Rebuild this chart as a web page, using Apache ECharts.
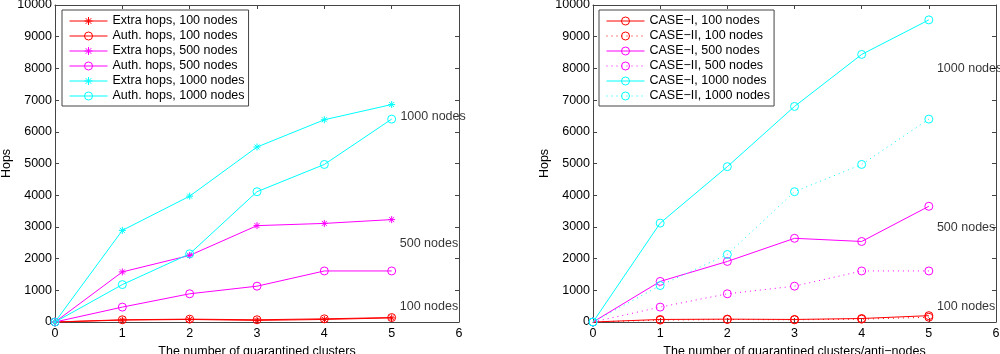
<!DOCTYPE html>
<html><head><meta charset="utf-8">
<script src="https://cdn.jsdelivr.net/npm/echarts@6/dist/echarts.min.js"></script>
<style>html,body{margin:0;padding:0;background:#fff}#c{width:1000px;height:354px}</style>
</head><body><div id="c"></div>
<script>
// ---- data ----
const xCats = [0, 1, 2, 3, 4, 5];
const yTicks = [0, 1000, 2000, 3000, 4000, 5000, 6000, 7000, 8000, 9000, 10000];
// left panel
const extra100  = [0, 60, 80, 50, 80, 130];
const auth100   = [0, 70, 90, 70, 100, 140];
const extra500  = [0, 1580, 2100, 3040, 3110, 3230];
const auth500   = [0, 470, 890, 1130, 1610, 1610];
const extra1000 = [0, 2890, 3970, 5520, 6380, 6860];
const auth1000  = [0, 1180, 2150, 4110, 4970, 6400];
// right panel
const case1_100  = [0, 80, 90, 80, 110, 200];
const case2_100  = [0, 60, 80, 70, 90, 150];
const case1_500  = [0, 1280, 1910, 2640, 2540, 3650];
const case2_500  = [0, 470, 890, 1130, 1610, 1610];
const case1_1000 = [0, 3120, 4900, 6800, 8440, 9530];
const case2_1000 = [0, 1150, 2130, 4110, 4970, 6400];
// annotations [x, y, text]
const annLeft  = [[5.13, 6490, '1000 nodes'], [5.12, 2480, '500 nodes'], [5.12, 500, '100 nodes']];
const annRight = [[5.12, 8000, '1000 nodes'], [5.12, 2990, '500 nodes'], [5.12, 500, '100 nodes']];

const RED = '#ff0000', MAG = '#ff00ff', CYAN = '#00ffff';
const STAR = 'path://M0,-1L0,1M-1,0L1,0M-0.7,-0.7L0.7,0.7M-0.7,0.7L0.7,-0.7';
const FONT = 'Liberation Sans';
const FS = 12.5;
const AX = '#444';

function pts(arr) { return arr.map((v, i) => [xCats[i], v]); }

function mkSeries(name, arr, color, symbol, dotted, gi) {
  const isStar = symbol === 'star';
  return {
    name: name, type: 'line', xAxisIndex: gi * 2, yAxisIndex: gi * 2,
    data: pts(arr),
    symbol: isStar ? STAR : 'circle',
    symbolSize: isStar ? 7 : 8,
    showSymbol: true,
    lineStyle: { color: color, width: 1, type: dotted ? [1, 4] : 'solid' },
    itemStyle: { color: isStar ? color : 'rgba(0,0,0,0)', borderColor: color, borderWidth: 1 },
    emphasis: { disabled: true },
    animation: false, clip: false, z: 3
  };
}

function annSeries(ann, gi) {
  return {
    type: 'scatter', xAxisIndex: gi * 2, yAxisIndex: gi * 2,
    data: ann.map(a => ({ value: [a[0], a[1]], name: a[2] })),
    symbolSize: 1, clip: false, silent: true, animation: false,
    itemStyle: { color: 'rgba(0,0,0,0)' },
    label: { show: true, position: 'inside', align: 'left', verticalAlign: 'middle',
             formatter: p => p.name, color: '#000', fontFamily: FONT, fontSize: FS },
    labelLayout: { hideOverlap: false, moveOverlap: false }
  };
}

const tickFmt = v => String(v);

function xAxes(gi, name) {
  return [
    { type: 'value', gridIndex: gi, min: 0, max: 6, interval: 1, position: 'bottom',
      name: name, nameLocation: 'middle', nameGap: 18,
      nameTextStyle: { color: '#000', fontFamily: FONT, fontSize: FS },
      axisLine: { show: true, onZero: false, lineStyle: { color: AX, width: 1 } },
      axisTick: { show: true, inside: true, length: 4, lineStyle: { color: AX } },
      axisLabel: { color: '#000', fontFamily: FONT, fontSize: FS, margin: 5, formatter: tickFmt },
      splitLine: { show: false } },
    { type: 'value', gridIndex: gi, min: 0, max: 6, interval: 1, position: 'top',
      axisLine: { show: true, onZero: false, lineStyle: { color: AX, width: 1 } },
      axisTick: { show: true, inside: true, length: 4, lineStyle: { color: AX } },
      axisLabel: { show: false }, splitLine: { show: false } }
  ];
}
function yAxes(gi) {
  return [
    { type: 'value', gridIndex: gi, min: yTicks[0], max: yTicks[yTicks.length - 1], interval: 1000, position: 'left',
      name: 'Hops', nameLocation: 'middle', nameGap: 38, nameRotate: 90,
      nameTextStyle: { color: '#000', fontFamily: FONT, fontSize: FS },
      axisLine: { show: true, onZero: false, lineStyle: { color: AX, width: 1 } },
      axisTick: { show: true, inside: true, length: 4, lineStyle: { color: AX } },
      axisLabel: { color: '#000', fontFamily: FONT, fontSize: FS, margin: 3, formatter: tickFmt },
      splitLine: { show: false } },
    { type: 'value', gridIndex: gi, min: yTicks[0], max: yTicks[yTicks.length - 1], interval: 1000, position: 'right',
      axisLine: { show: true, onZero: false, lineStyle: { color: AX, width: 1 } },
      axisTick: { show: true, inside: true, length: 4, lineStyle: { color: AX } },
      axisLabel: { show: false }, splitLine: { show: false } }
  ];
}

const leftNames = ['Extra hops, 100 nodes', 'Auth. hops, 100 nodes', 'Extra hops, 500 nodes',
                   'Auth. hops, 500 nodes', 'Extra hops, 1000 nodes', 'Auth. hops, 1000 nodes'];
const rightNames = ['CASE\u2212I, 100 nodes', 'CASE\u2212II, 100 nodes', 'CASE\u2212I, 500 nodes',
                    'CASE\u2212II, 500 nodes', 'CASE\u2212I, 1000 nodes', 'CASE\u2212II, 1000 nodes'];

const series = [
  mkSeries(leftNames[0], extra100, RED, 'star', false, 0),
  mkSeries(leftNames[1], auth100, RED, 'circle', false, 0),
  mkSeries(leftNames[2], extra500, MAG, 'star', false, 0),
  mkSeries(leftNames[3], auth500, MAG, 'circle', false, 0),
  mkSeries(leftNames[4], extra1000, CYAN, 'star', false, 0),
  mkSeries(leftNames[5], auth1000, CYAN, 'circle', false, 0),
  mkSeries(rightNames[0], case1_100, RED, 'circle', false, 1),
  mkSeries(rightNames[1], case2_100, RED, 'circle', true, 1),
  mkSeries(rightNames[2], case1_500, MAG, 'circle', false, 1),
  mkSeries(rightNames[3], case2_500, MAG, 'circle', true, 1),
  mkSeries(rightNames[4], case1_1000, CYAN, 'circle', false, 1),
  mkSeries(rightNames[5], case2_1000, CYAN, 'circle', true, 1),
  annSeries(annLeft, 0),
  annSeries(annRight, 1)
];

function legend(names, left) {
  return {
    data: names, orient: 'vertical', left: left, top: 10,
    itemWidth: 38, itemHeight: 10, itemGap: 1,
    padding: [4, 4, 3, 7],
    borderColor: '#444', borderWidth: 1, backgroundColor: '#fff',
    selectedMode: false, inactiveColor: '#000',
    itemStyle: { borderWidth: 1 },
    lineStyle: { width: 1 },
    textStyle: { color: '#000', fontFamily: FONT, fontSize: FS, lineHeight: 14 }
  };
}

const chart = echarts.init(document.getElementById('c'), null, { renderer: 'canvas' });
chart.setOption({
  animation: false,
  backgroundColor: '#fff',
  grid: [
    { left: 55, right: 541, top: 5, bottom: 32, containLabel: false, outerBoundsMode: 'none' },
    { left: 593, right: 4, top: 5, bottom: 32, containLabel: false, outerBoundsMode: 'none' }
  ],
  xAxis: [...xAxes(0, 'The number of quarantined clusters'), ...xAxes(1, 'The number of quarantined clusters/anti\u2212nodes')],
  yAxis: [...yAxes(0), ...yAxes(1)],
  legend: [legend(leftNames, 62), legend(rightNames, 599)],
  series: series
});
</script>
</body></html>
